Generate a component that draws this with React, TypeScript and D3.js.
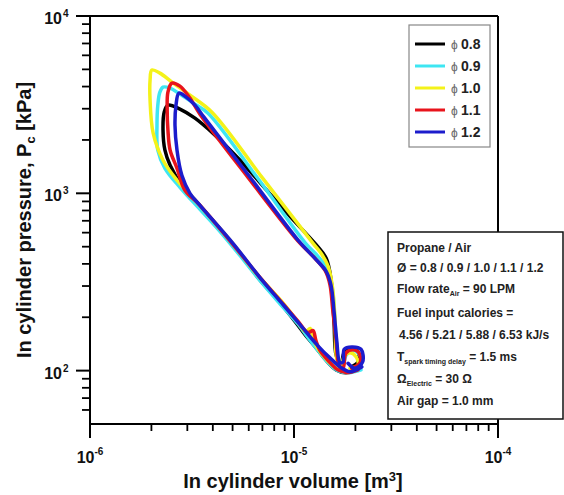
import React from 'react';
import * as d3 from 'd3';

const W = 564;
const H = 495;
const PLOT = { left: 90, right: 498, top: 16, bottom: 424 };

const xDomain: [number, number] = [1e-6, 1e-4];
const yDomain: [number, number] = [50, 1e4];
const xMajor = [1e-6, 1e-5, 1e-4];
const xMajorExp = ['-6', '-5', '-4'];
const yMajor = [1e2, 1e3, 1e4];
const yMajorExp = ['2', '3', '4'];
const xMinor = [2e-6, 3e-6, 4e-6, 5e-6, 6e-6, 7e-6, 8e-6, 9e-6, 2e-5, 3e-5, 4e-5, 5e-5, 6e-5, 7e-5, 8e-5, 9e-5];
const yMinor = [60, 70, 80, 90, 200, 300, 400, 500, 600, 700, 800, 900, 2000, 3000, 4000, 5000, 6000, 7000, 8000, 9000];

// [volume m^3, pressure kPa]
const phi08: [number, number][] = [[2.06e-5,104],[1.80e-5,97.4],[1.61e-5,101],[1.44e-5,114],[1.28e-5,135],[1.14e-5,158],[1.02e-5,187],[8.35e-6,249],[6.66e-6,335],[5.32e-6,470],[4.24e-6,643],[3.38e-6,878],[2.82e-6,1110],[2.47e-6,1440],[2.33e-6,1750],[2.28e-6,2269],[2.31e-6,2868],[2.41e-6,3142],[2.76e-6,2983],[3.27e-6,2653],[4.10e-6,2127],[5.44e-6,1537],[7.21e-6,1067],[9.56e-6,741],[1.28e-5,515],[1.44e-5,429],[1.52e-5,323],[1.57e-5,192],[1.61e-5,122],[1.70e-5,108],[1.76e-5,126],[1.88e-5,133],[2.04e-5,130],[2.08e-5,114],[1.92e-5,105]];
const phi09: [number, number][] = [[2.13e-5,101],[1.86e-5,97.4],[1.64e-5,100],[1.47e-5,111],[1.31e-5,130],[1.17e-5,154],[1.05e-5,182],[8.44e-6,242],[6.74e-6,327],[5.38e-6,452],[4.29e-6,618],[3.46e-6,812],[2.76e-6,1081],[2.33e-6,1384],[2.15e-6,1750],[2.13e-6,2422],[2.15e-6,3142],[2.20e-6,3718],[2.28e-6,3971],[2.47e-6,3918],[2.76e-6,3625],[3.27e-6,3183],[3.79e-6,2831],[6.59e-6,1231],[1.14e-5,522],[1.31e-5,441],[1.45e-5,377],[1.54e-5,291],[1.59e-5,187],[1.64e-5,117],[1.72e-5,103],[1.80e-5,122],[1.92e-5,130],[2.06e-5,126],[2.15e-5,111],[1.99e-5,101]];
const phi10: [number, number][] = [[2.11e-5,104],[1.84e-5,98.7],[1.62e-5,103],[1.45e-5,115],[1.30e-5,135],[1.24e-5,152],[1.20e-5,173],[1.14e-5,166],[1.05e-5,187],[8.64e-6,248],[6.66e-6,344],[4.91e-6,536],[3.38e-6,878],[2.67e-6,1185],[2.28e-6,1537],[2.04e-6,2183],[1.97e-6,3350],[1.97e-6,4350],[2.01e-6,4953],[2.20e-6,4764],[2.52e-6,4238],[3.09e-6,3578],[3.96e-6,2868],[6.97e-6,1231],[1.24e-5,522],[1.37e-5,452],[1.47e-5,387],[1.54e-5,302],[1.59e-5,192],[1.62e-5,117],[1.70e-5,105],[1.76e-5,120],[1.88e-5,126],[2.01e-5,120],[2.06e-5,108],[1.88e-5,103]];
const phi11: [number, number][] = [[2.06e-5,101],[1.82e-5,97.4],[1.64e-5,101],[1.47e-5,114],[1.34e-5,130],[1.28e-5,148],[1.24e-5,168],[1.17e-5,164],[1.05e-5,189],[8.73e-6,242],[6.74e-6,340],[4.97e-6,522],[3.42e-6,867],[2.92e-6,1040],[2.67e-6,1384],[2.47e-6,1750],[2.41e-6,2269],[2.39e-6,2942],[2.41e-6,3718],[2.52e-6,4183],[2.76e-6,4021],[3.09e-6,3441],[3.46e-6,2795],[5.95e-6,1231],[1.05e-5,536],[1.27e-5,429],[1.42e-5,367],[1.50e-5,306],[1.55e-5,218],[1.61e-5,148],[1.66e-5,108],[1.74e-5,103],[1.80e-5,126],[1.95e-5,131],[2.08e-5,126],[2.11e-5,111],[1.92e-5,103]];
const phi12: [number, number][] = [[2.15e-5,105],[1.88e-5,98.7],[1.70e-5,104],[1.50e-5,118],[1.31e-5,138],[1.07e-5,182],[8.83e-6,236],[6.81e-6,335],[5.02e-6,522],[3.46e-6,855],[3.09e-6,1000],[2.82e-6,1264],[2.67e-6,1750],[2.61e-6,2422],[2.64e-6,3142],[2.73e-6,3673],[2.96e-6,3486],[3.27e-6,3142],[3.62e-6,2688],[6.09e-6,1231],[1.07e-5,528],[1.28e-5,424],[1.44e-5,362],[1.52e-5,302],[1.57e-5,218],[1.62e-5,148],[1.68e-5,111],[1.74e-5,112],[1.76e-5,132],[1.92e-5,136],[2.13e-5,132],[2.17e-5,112],[1.99e-5,103],[1.84e-5,110]];

const seriesData = [phi08, phi09, phi10, phi11, phi12];
const seriesLabels = ['0.8', '0.9', '1.0', '1.1', '1.2'];
const seriesColors = ['#000000', '#3ee6f2', '#f4f21a', '#e8141c', '#1c1ccc'];

const FONT = '"Liberation Sans", Arial, Helvetica, sans-serif';

export default function App() {
  const x = d3.scaleLog().domain(xDomain).range([PLOT.left, PLOT.right]);
  const y = d3.scaleLog().domain(yDomain).range([PLOT.bottom, PLOT.top]);
  const line = d3
    .line<[number, number]>()
    .x((d) => x(d[0]))
    .y((d) => y(d[1]))
    .curve(d3.curveCatmullRom.alpha(0.5));

  const legendX = 409;
  const legendY = 25;
  const rowH = 22;

  const infoX = 397;
  const infoSize = 12;

  return (
    <svg
      width={W}
      height={H}
      viewBox={`0 0 ${W} ${H}`}
      style={{ position: 'absolute', left: 0, top: 0, background: '#fff' }}
      fontFamily={FONT}
    >
      <rect x={0} y={0} width={W} height={H} fill="#fff" />

      {/* series */}
      {seriesData.map((d, i) => (
        <path
          key={i}
          d={line(d) || ''}
          fill="none"
          stroke={seriesColors[i]}
          strokeWidth={3.5}
          strokeLinejoin="round"
          strokeLinecap="round"
        />
      ))}

      {/* frame */}
      <line x1={PLOT.left} x2={PLOT.right} y1={PLOT.top} y2={PLOT.top} stroke="#000" strokeWidth={2} />
      <line x1={PLOT.right} x2={PLOT.right} y1={PLOT.top} y2={PLOT.bottom} stroke="#000" strokeWidth={2} />
      <line x1={PLOT.left} x2={PLOT.left} y1={PLOT.top - 1} y2={PLOT.bottom + 1} stroke="#000" strokeWidth={2} />
      <line x1={PLOT.left - 1} x2={PLOT.right + 1} y1={PLOT.bottom} y2={PLOT.bottom} stroke="#000" strokeWidth={2} />

      {/* x ticks */}
      {xMajor.map((v, i) => (
        <g key={'xm' + i}>
          <line x1={x(v)} x2={x(v)} y1={PLOT.bottom} y2={PLOT.bottom + 14} stroke="#000" strokeWidth={2} />
          <text x={x(v)} y={463} textAnchor="middle" fontSize={16} fontWeight="bold" fill="#111">
            10<tspan dy={-8} fontSize={10}>{xMajorExp[i]}</tspan>
          </text>
        </g>
      ))}
      {xMinor.map((v, i) => (
        <line key={'xn' + i} x1={x(v)} x2={x(v)} y1={PLOT.bottom} y2={PLOT.bottom + 7} stroke="#000" strokeWidth={1.8} />
      ))}

      {/* y ticks */}
      {yMajor.map((v, i) => (
        <g key={'ym' + i}>
          <line x1={PLOT.left - 14} x2={PLOT.left} y1={y(v)} y2={y(v)} stroke="#000" strokeWidth={2} />
          <text x={62} y={y(v) + 8} textAnchor="end" fontSize={16} fontWeight="bold" fill="#111">
            10
          </text>
          <text x={63} y={y(v) + 1} textAnchor="start" fontSize={10} fontWeight="bold" fill="#111">
            {yMajorExp[i]}
          </text>
        </g>
      ))}
      {yMinor.map((v, i) => (
        <line key={'yn' + i} x1={PLOT.left - 8} x2={PLOT.left} y1={y(v)} y2={y(v)} stroke="#000" strokeWidth={1.8} />
      ))}

      {/* axis titles */}
      <text x={293} y={488} textAnchor="middle" fontSize={20} fontWeight="bold" fill="#111">
        In cylinder volume [m<tspan fontSize={13} dy={-7}>3</tspan><tspan dy={7}>]</tspan>
      </text>
      <text
        transform={`translate(31, ${(PLOT.top + PLOT.bottom) / 2}) rotate(-90)`}
        textAnchor="middle"
        fontSize={20}
        fontWeight="bold"
        fill="#111"
      >
        In cylinder pressure, P<tspan fontSize={13} dy={4}>c</tspan>
        <tspan dy={-4}> [kPa]</tspan>
      </text>

      {/* legend */}
      <rect x={legendX} y={legendY} width={81} height={122} fill="#fff" stroke="#888" strokeWidth={1.2} />
      {seriesLabels.map((lab, i) => {
        const cy = legendY + 19 + i * rowH;
        return (
          <g key={'lg' + i}>
            <line x1={415} x2={445} y1={cy} y2={cy} stroke={seriesColors[i]} strokeWidth={3} />
            <text x={451} y={cy + 5} fontSize={12} fill="#666">
              ϕ
            </text>
            <text x={461} y={cy + 5} fontSize={14} fontWeight="bold" fill="#222">
              {lab}
            </text>
          </g>
        );
      })}

      {/* info box */}
      <rect x={388} y={232} width={175} height={187} fill="#fff" stroke="#111" strokeWidth={1.5} />
      <g fontSize={infoSize} fontWeight="bold" fill="#222">
        <text x={infoX} y={252}>Propane / Air</text>
        <text x={infoX} y={272}>Ø = 0.8 / 0.9 / 1.0 / 1.1 / 1.2</text>
        <text x={infoX} y={293}>
          Flow rate<tspan fontSize={7} dy={3}>Air</tspan>
          <tspan dy={-3}> = 90 LPM</tspan>
        </text>
        <text x={infoX} y={317}>Fuel input calories =</text>
        <text x={infoX + 2} y={339}>4.56 / 5.21 / 5.88 / 6.53 kJ/s</text>
        <text x={infoX} y={361}>
          T<tspan fontSize={7} dy={3}>spark timing delay</tspan>
          <tspan dy={-3}> = 1.5 ms</tspan>
        </text>
        <text x={infoX} y={383}>
          Ω<tspan fontSize={7} dy={3}>Electric</tspan>
          <tspan dy={-3}> = 30 Ω</tspan>
        </text>
        <text x={infoX} y={405}>Air gap = 1.0 mm</text>
      </g>
    </svg>
  );
}
